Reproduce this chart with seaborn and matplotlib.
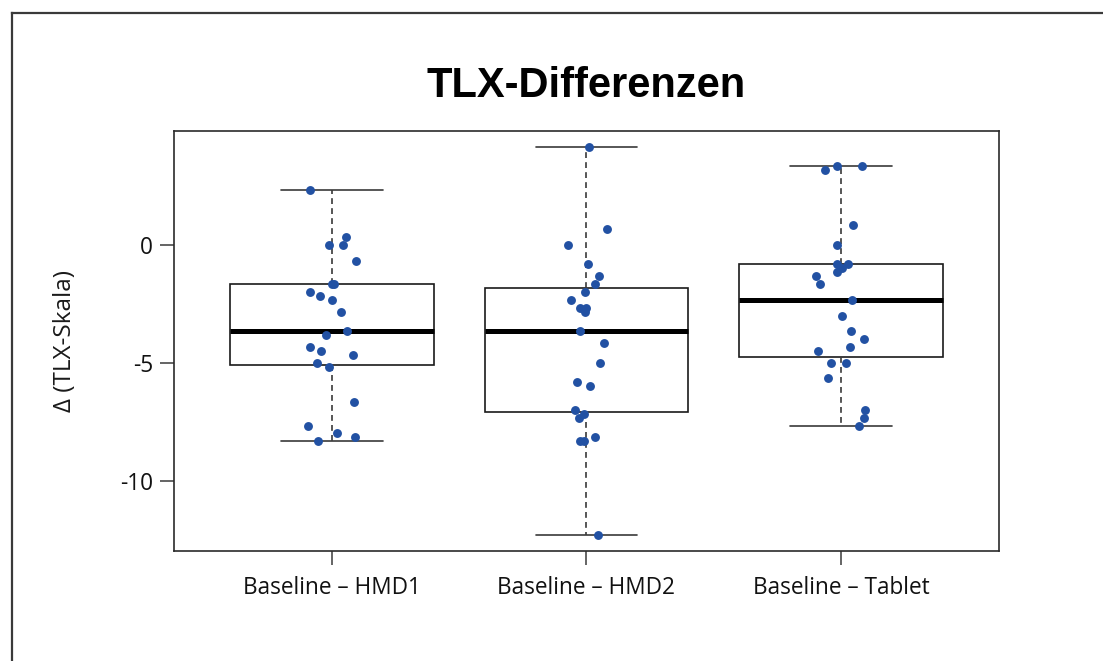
import numpy as np
import pandas as pd
import matplotlib
matplotlib.use("Agg")
import matplotlib.pyplot as plt
from matplotlib.lines import Line2D
import seaborn as sns

# TLX difference scores per comparison
categories = ["Baseline – HMD1", "Baseline – HMD2", "Baseline – Tablet"]
diff_hmd1 = [2.33, 0.33, 0.0, 0.0, -0.67, -1.67, -1.67, -2.0, -2.17, -2.33, -2.83, -3.67,
             -3.83, -4.33, -4.5, -4.67, -5.0, -5.17, -6.67, -7.67, -8.0, -8.17, -8.33]
diff_hmd2 = [4.17, 0.67, 0.0, -0.83, -1.33, -1.67, -2.0, -2.33, -2.67, -2.67, -2.83, -3.67,
             -4.17, -5.0, -5.83, -6.0, -7.0, -7.17, -7.33, -8.17, -8.33, -8.33, -12.33]
diff_tablet = [3.33, 3.33, 3.17, 0.83, 0.0, -0.83, -0.83, -1.0, -1.17, -1.33, -1.67, -2.33,
               -3.0, -3.67, -4.0, -4.33, -4.5, -5.0, -5.0, -5.67, -7.0, -7.33, -7.67]
y_ticks = [0, -5, -10]
y_tick_labels = ["0", "-5", "-10"]

df = pd.DataFrame({
    "Vergleich": np.repeat(categories, [len(diff_hmd1), len(diff_hmd2), len(diff_tablet)]),
    "Differenz": diff_hmd1 + diff_hmd2 + diff_tablet,
})

sns.set_theme(style="white")
plt.rcParams["font.family"] = ["Open Sans", "DejaVu Sans"]
plt.rcParams["axes.unicode_minus"] = False

fig = plt.figure(figsize=(11.03, 6.61), dpi=100)
ax = fig.add_axes([174 / 1103, 1 - 551 / 661, (999 - 174) / 1103, (551 - 131) / 661])

sns.boxplot(
    data=df, x="Vergleich", y="Differenz", order=categories, ax=ax,
    width=0.8, color="white", linecolor="#1a1a1a", linewidth=1.2,
    showfliers=False, capwidths=0.4,
    whiskerprops=dict(linestyle=(0, (3.5, 2.5)), color="#3a3a3a", linewidth=1.2),
    capprops=dict(color="#3a3a3a", linewidth=1.2),
    medianprops=dict(color="black", linewidth=3.6),
)

np.random.seed(7)
sns.stripplot(
    data=df, x="Vergleich", y="Differenz", order=categories, ax=ax,
    jitter=0.1, size=6.4, color="#2251a3", linewidth=0, zorder=4,
)

ax.set_xlim(-0.62, 2.62)
ax.set_ylim(-12.99, 4.83)
ax.set_yticks(y_ticks)
ax.set_yticklabels(y_tick_labels)
ax.set_xlabel("")
ax.set_ylabel("Δ (TLX-Skala)", fontsize=17.5, color="#1a1a1a")
ax.yaxis.set_label_coords(-0.118, 0.5)

for side in ax.spines.values():
    side.set_visible(True)
    side.set_color("#2a2a2a")
    side.set_linewidth(1.2)

ax.tick_params(axis="both", which="major", direction="out", length=10, width=1.1,
               color="#3a3a3a", labelsize=16.3, labelcolor="#111111",
               left=True, bottom=True)
ax.tick_params(axis="y", pad=5)
ax.tick_params(axis="x", pad=8)

fig.text(586.5 / 1103, 1 - 97 / 661, "TLX-Differenzen", ha="center", va="baseline",
         fontsize=30, fontweight="bold", family=["Liberation Sans", "DejaVu Sans"],
         color="black")

# outer frame (top and left edges)
frame_x = 12 / 1103
frame_y = 1 - 13 / 661
fig.add_artist(Line2D([frame_x, frame_x], [0, frame_y], transform=fig.transFigure,
                      color="#3a3a3a", linewidth=1.6, solid_capstyle="projecting"))
fig.add_artist(Line2D([frame_x, 1], [frame_y, frame_y], transform=fig.transFigure,
                      color="#3a3a3a", linewidth=1.6, solid_capstyle="projecting"))

fig.savefig("out.png", dpi=100)
